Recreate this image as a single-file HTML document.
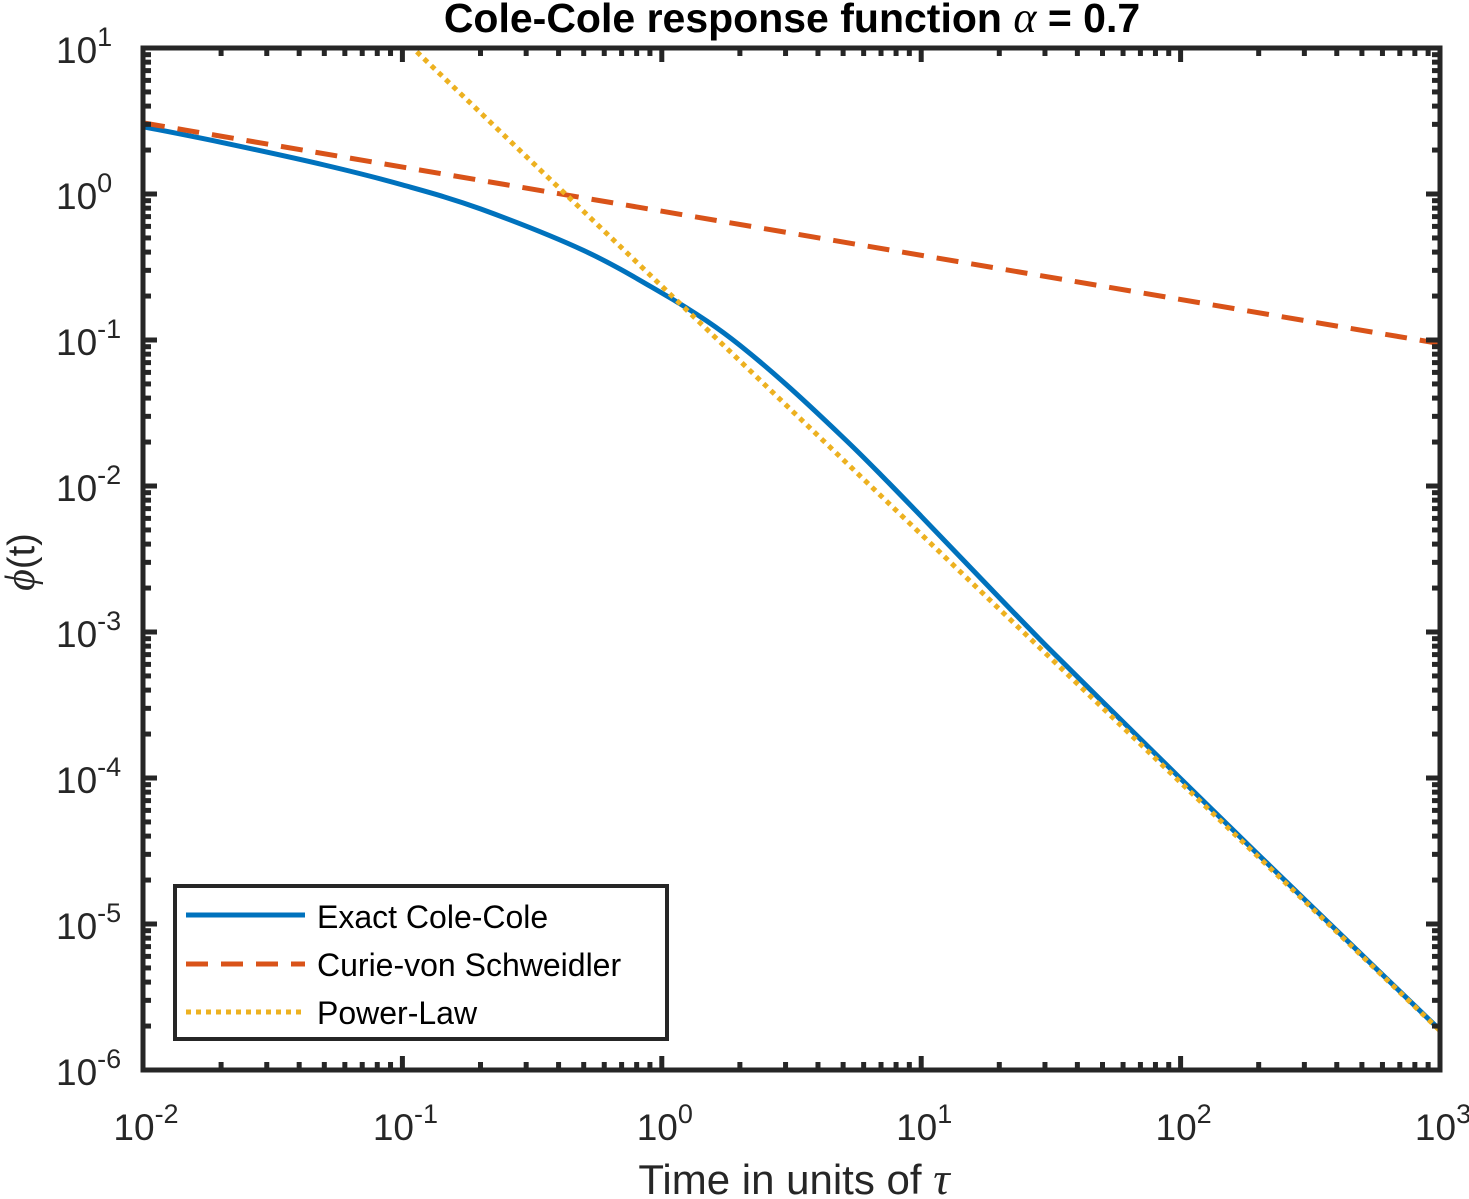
<!DOCTYPE html>
<html><head><meta charset="utf-8"><style>
html,body{margin:0;padding:0;background:#fff;}
svg{display:block;font-family:"Liberation Sans",sans-serif;}
</style></head><body>
<svg id="chart" width="1469" height="1199" viewBox="0 0 1469 1199">
<defs><clipPath id="plotclip"><rect x="143" y="48" width="1297" height="1022"/></clipPath></defs>
<g id="curves" clip-path="url(#plotclip)"></g>
<g id="axes"></g>
<text x="792" y="32" text-anchor="middle" font-size="41" font-weight="bold" fill="#000">Cole-Cole response function <tspan font-family="Liberation Serif" font-style="italic" font-weight="normal" font-size="44">α</tspan> = 0.7</text>
<text x="794" y="1194" text-anchor="middle" font-size="42" fill="#262626">Time in units of <tspan font-family="Liberation Serif" font-style="italic" font-size="46">τ</tspan></text>
<text transform="translate(34,562) rotate(-90)" text-anchor="middle" font-size="38" fill="#262626"><tspan font-family="Liberation Serif" font-style="italic" font-size="42">ϕ</tspan>(t)</text>
<g>
<rect x="175" y="886" width="492" height="153" fill="#fff" stroke="#262626" stroke-width="4"/>
<line x1="186" y1="915" x2="305" y2="915" stroke="#0072BD" stroke-width="5"/>
<text x="317" y="928" font-size="32" fill="#000">Exact Cole-Cole</text>
<line x1="186" y1="964" x2="305" y2="964" stroke="#D95319" stroke-width="5" stroke-dasharray="22,13"/>
<text x="317" y="976" font-size="32" fill="#000">Curie-von Schweidler</text>
<line x1="186" y1="1012" x2="305" y2="1012" stroke="#EDB120" stroke-width="5" stroke-dasharray="5,5"/>
<text x="317" y="1024" font-size="32" fill="#000">Power-Law</text>
</g>
</svg>
<script>
const exactT = [0.01,0.02,0.05,0.1,0.2,0.5,1,1.5,2,3,5,7,10,20,30,50,100,200,500,1000];
const exactPhi = [2.89,2.26,1.58,1.155,0.79,0.41,0.21,0.134,0.092,0.050,0.0215,0.0119,0.0062,0.00172,8.2e-4,3.33e-4,9.9e-5,2.97e-5,6.15e-6,1.88e-6];
const cvsT = [0.01,1000];
const cvsPhi = [3.07,0.0945];
const plT = [0.1,1000];
const plPhi = [11.7,1.86e-6];
const xTickExp = [-2,-1,0,1,2,3];
const yTickExp = [-6,-5,-4,-3,-2,-1,0,1];

const X0=143,X1=1440,Y0=1070,Y1=48;
const xmin=-2,xmax=3,ymin=-6,ymax=1;
function sx(v){return X0+(Math.log10(v)-xmin)/(xmax-xmin)*(X1-X0);}
function sy(v){return Y0-(Math.log10(v)-ymin)/(ymax-ymin)*(Y0-Y1);}
const NS="http://www.w3.org/2000/svg";
function mk(tag,attrs,parent){const e=document.createElementNS(NS,tag);for(const k in attrs)e.setAttribute(k,attrs[k]);parent.appendChild(e);return e;}
const curves=document.getElementById('curves');
const axes=document.getElementById('axes');
function smoothPath(pts){
  let d='M'+pts[0][0].toFixed(1)+','+pts[0][1].toFixed(1);
  for(let i=0;i<pts.length-1;i++){
    const p0=pts[i-1]||pts[i],p1=pts[i],p2=pts[i+1],p3=pts[i+2]||pts[i+1];
    const c1=[p1[0]+(p2[0]-p0[0])/6,p1[1]+(p2[1]-p0[1])/6];
    const c2=[p2[0]-(p3[0]-p1[0])/6,p2[1]-(p3[1]-p1[1])/6];
    d+=' C'+c1[0].toFixed(1)+','+c1[1].toFixed(1)+' '+c2[0].toFixed(1)+','+c2[1].toFixed(1)+' '+p2[0].toFixed(1)+','+p2[1].toFixed(1);
  }
  return d;
}
function series(ts,ps,color,dash,name){
  const pts=ts.map((t,i)=>[sx(t),sy(ps[i])]);
  const p=mk('path',{d:smoothPath(pts),fill:'none',stroke:color,'stroke-width':5,'stroke-linejoin':'round'},curves);
  if(dash)p.setAttribute('stroke-dasharray',dash);
  
  
}
series(exactT,exactPhi,'#0072BD',null,'exact-cole-cole-line');
series(cvsT,cvsPhi,'#D95319','22,13','curie-von-schweidler-line');
series(plT,plPhi,'#EDB120','5,5','power-law-line');

const frame=mk('rect',{x:X0,y:Y1,width:X1-X0,height:Y0-Y1,fill:'none',stroke:'#262626','stroke-width':5},axes);


function tickLine(x1,y1,x2,y2){const l=mk('line',{x1:x1,y1:y1,x2:x2,y2:y2,stroke:'#262626','stroke-width':5},axes);
  
  }
xTickExp.forEach((e,i)=>{
  const x=sx(Math.pow(10,e));
  tickLine(x,Y0,x,Y0-14);tickLine(x,Y1,x,Y1+14);
  if(i<xTickExp.length-1){for(let m=2;m<=9;m++){const xm=sx(m*Math.pow(10,e));tickLine(xm,Y0,xm,Y0-8);tickLine(xm,Y1,xm,Y1+8);}}
  const t=mk('text',{x:x+3,y:1140,'text-anchor':'middle','font-size':37,fill:'#262626'},axes);
  
  
  t.innerHTML='10<tspan dy="-17" font-size="27">'+e+'</tspan>';
});
yTickExp.forEach((e,i)=>{
  const y=sy(Math.pow(10,e));
  tickLine(X0,y,X0+14,y);tickLine(X1,y,X1-14,y);
  if(i<yTickExp.length-1){for(let m=2;m<=9;m++){const ym=sy(m*Math.pow(10,e));tickLine(X0,ym,X0+8,ym);tickLine(X1,ym,X1-8,ym);}}
  const t=mk('text',{x:56,y:y+15,'font-size':37,fill:'#262626'},axes);
  
  
  t.innerHTML='10<tspan dy="-17" font-size="27">'+e+'</tspan>';
});
</script>
</body></html>
